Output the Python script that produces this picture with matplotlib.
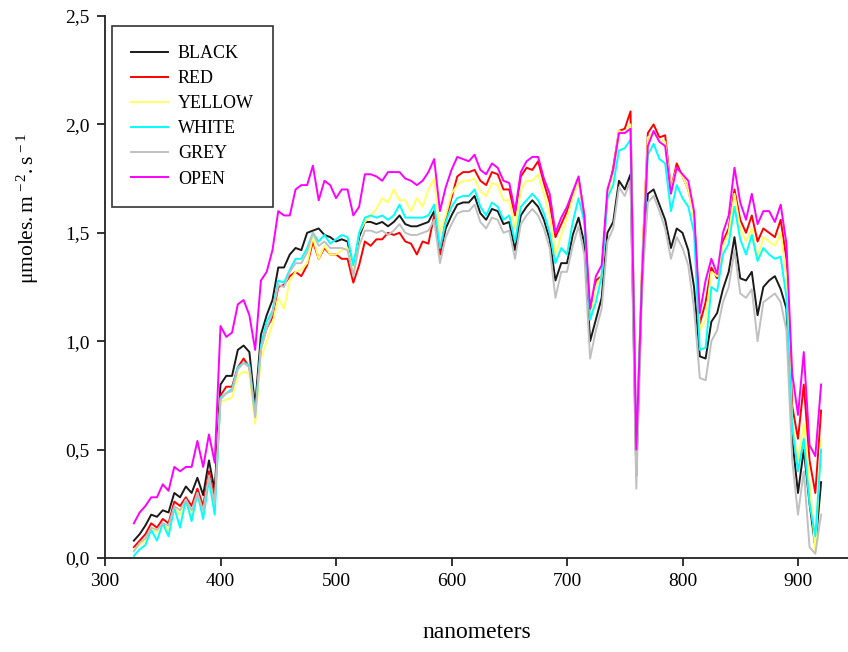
import numpy as np
import matplotlib
matplotlib.use("Agg")
import matplotlib.pyplot as plt
from matplotlib.ticker import FuncFormatter

plt.rcParams["font.family"] = ["Liberation Serif", "DejaVu Serif"]
plt.rcParams["mathtext.fontset"] = "custom"
plt.rcParams["mathtext.rm"] = "Liberation Serif"
plt.rcParams["mathtext.it"] = "Liberation Serif:italic"

# wavelength grid (nm)
wavelength = np.arange(325, 921, 5)

black = [0.08, 0.11, 0.15, 0.20, 0.19, 0.22, 0.21, 0.30, 0.28, 0.33, 0.30, 0.37, 0.29, 0.45, 0.31,
         0.80, 0.84, 0.84, 0.96, 0.98, 0.95, 0.70, 1.03, 1.12, 1.19, 1.34, 1.34, 1.40, 1.43, 1.42,
         1.50, 1.51, 1.52, 1.49, 1.48, 1.46, 1.47, 1.46, 1.33, 1.48, 1.55, 1.55, 1.54, 1.55, 1.53,
         1.55, 1.58, 1.54, 1.53, 1.53, 1.54, 1.55, 1.60, 1.40, 1.52, 1.58, 1.63, 1.64, 1.64, 1.67,
         1.59, 1.56, 1.61, 1.60, 1.54, 1.55, 1.42, 1.58, 1.62, 1.65, 1.62, 1.56, 1.47, 1.28, 1.36,
         1.36, 1.49, 1.57, 1.45, 1.00, 1.10, 1.20, 1.50, 1.55, 1.74, 1.70, 1.77, 0.38, 1.30, 1.68,
         1.70, 1.63, 1.56, 1.43, 1.52, 1.50, 1.42, 1.25, 0.93, 0.92, 1.09, 1.13, 1.24, 1.32, 1.48,
         1.29, 1.28, 1.32, 1.12, 1.25, 1.28, 1.30, 1.24, 1.15, 0.55, 0.30, 0.50, 0.25, 0.05, 0.35]

red = [0.05, 0.08, 0.11, 0.16, 0.14, 0.18, 0.16, 0.26, 0.24, 0.28, 0.24, 0.32, 0.24, 0.40, 0.27,
       0.75, 0.79, 0.79, 0.88, 0.92, 0.88, 0.65, 0.97, 1.06, 1.11, 1.25, 1.26, 1.30, 1.32, 1.30,
       1.35, 1.46, 1.38, 1.43, 1.40, 1.40, 1.38, 1.38, 1.27, 1.35, 1.46, 1.44, 1.47, 1.47, 1.50,
       1.49, 1.50, 1.46, 1.45, 1.40, 1.46, 1.45, 1.58, 1.40, 1.56, 1.66, 1.76, 1.78, 1.78, 1.79,
       1.74, 1.72, 1.78, 1.77, 1.70, 1.70, 1.58, 1.76, 1.80, 1.79, 1.83, 1.73, 1.64, 1.48, 1.54,
       1.60, 1.68, 1.75, 1.58, 1.10, 1.28, 1.30, 1.67, 1.80, 1.97, 1.98, 2.06, 0.47, 1.35, 1.96,
       2.00, 1.94, 1.95, 1.70, 1.82, 1.76, 1.70, 1.58, 1.08, 1.18, 1.34, 1.29, 1.46, 1.52, 1.70,
       1.56, 1.50, 1.58, 1.46, 1.52, 1.50, 1.48, 1.56, 1.38, 0.70, 0.55, 0.80, 0.45, 0.30, 0.68]

yellow = [0.04, 0.06, 0.08, 0.13, 0.12, 0.16, 0.13, 0.23, 0.20, 0.26, 0.20, 0.29, 0.20, 0.36, 0.24,
          0.72, 0.73, 0.74, 0.84, 0.86, 0.85, 0.62, 0.92, 1.00, 1.08, 1.20, 1.15, 1.28, 1.32, 1.33,
          1.36, 1.48, 1.38, 1.44, 1.40, 1.40, 1.42, 1.43, 1.33, 1.50, 1.55, 1.58, 1.61, 1.66, 1.64,
          1.70, 1.65, 1.65, 1.60, 1.66, 1.62, 1.70, 1.75, 1.50, 1.58, 1.68, 1.72, 1.74, 1.74, 1.75,
          1.69, 1.67, 1.73, 1.72, 1.65, 1.65, 1.52, 1.70, 1.74, 1.74, 1.77, 1.68, 1.58, 1.40, 1.49,
          1.57, 1.66, 1.74, 1.58, 1.10, 1.25, 1.30, 1.66, 1.78, 1.97, 1.96, 2.00, 0.47, 1.35, 1.94,
          1.96, 1.93, 1.92, 1.70, 1.80, 1.76, 1.70, 1.56, 1.05, 1.10, 1.32, 1.30, 1.44, 1.50, 1.68,
          1.52, 1.46, 1.52, 1.38, 1.48, 1.46, 1.44, 1.50, 1.30, 0.62, 0.45, 0.62, 0.35, 0.03, 0.55]

white = [0.01, 0.04, 0.06, 0.13, 0.08, 0.16, 0.10, 0.23, 0.14, 0.27, 0.17, 0.30, 0.18, 0.36, 0.20,
         0.74, 0.76, 0.78, 0.88, 0.90, 0.89, 0.66, 0.98, 1.09, 1.14, 1.28, 1.27, 1.33, 1.38, 1.38,
         1.43, 1.50, 1.46, 1.49, 1.45, 1.47, 1.49, 1.48, 1.35, 1.50, 1.57, 1.58, 1.57, 1.58, 1.56,
         1.58, 1.63, 1.57, 1.57, 1.57, 1.57, 1.58, 1.63, 1.43, 1.55, 1.62, 1.66, 1.67, 1.67, 1.70,
         1.62, 1.58, 1.64, 1.62, 1.56, 1.58, 1.46, 1.62, 1.65, 1.68, 1.65, 1.59, 1.50, 1.36, 1.43,
         1.40, 1.55, 1.66, 1.55, 1.10, 1.18, 1.30, 1.66, 1.72, 1.88, 1.89, 1.93, 0.50, 1.30, 1.86,
         1.91, 1.84, 1.82, 1.60, 1.72, 1.66, 1.62, 1.50, 0.96, 0.97, 1.25, 1.23, 1.40, 1.45, 1.62,
         1.47, 1.40, 1.49, 1.37, 1.43, 1.40, 1.38, 1.39, 1.20, 0.60, 0.40, 0.55, 0.25, 0.10, 0.50]

grey = [0.03, 0.07, 0.09, 0.14, 0.13, 0.16, 0.15, 0.24, 0.22, 0.27, 0.22, 0.30, 0.22, 0.38, 0.25,
        0.73, 0.76, 0.77, 0.87, 0.90, 0.88, 0.65, 0.96, 1.06, 1.13, 1.26, 1.25, 1.32, 1.36, 1.36,
        1.41, 1.50, 1.44, 1.46, 1.43, 1.43, 1.43, 1.42, 1.30, 1.44, 1.51, 1.51, 1.50, 1.51, 1.49,
        1.51, 1.54, 1.50, 1.49, 1.49, 1.50, 1.51, 1.56, 1.36, 1.48, 1.54, 1.59, 1.60, 1.60, 1.63,
        1.55, 1.52, 1.57, 1.56, 1.50, 1.51, 1.38, 1.54, 1.58, 1.61, 1.58, 1.52, 1.43, 1.20, 1.32,
        1.32, 1.44, 1.53, 1.40, 0.92, 1.05, 1.15, 1.46, 1.52, 1.71, 1.67, 1.74, 0.32, 1.25, 1.64,
        1.67, 1.60, 1.52, 1.38, 1.48, 1.43, 1.35, 1.15, 0.83, 0.82, 1.00, 1.05, 1.18, 1.25, 1.42,
        1.22, 1.20, 1.24, 1.00, 1.18, 1.20, 1.22, 1.18, 1.05, 0.45, 0.20, 0.40, 0.05, 0.02, 0.20]

open_sky = [0.16, 0.21, 0.24, 0.28, 0.28, 0.34, 0.31, 0.42, 0.40, 0.42, 0.42, 0.54, 0.42, 0.57, 0.44,
            1.07, 1.02, 1.04, 1.17, 1.19, 1.12, 0.96, 1.28, 1.32, 1.42, 1.60, 1.58, 1.58, 1.70, 1.72,
            1.72, 1.81, 1.65, 1.74, 1.72, 1.66, 1.70, 1.70, 1.58, 1.62, 1.77, 1.77, 1.76, 1.74, 1.78,
            1.78, 1.78, 1.75, 1.74, 1.72, 1.74, 1.78, 1.84, 1.60, 1.71, 1.79, 1.85, 1.84, 1.83, 1.86,
            1.79, 1.77, 1.82, 1.80, 1.74, 1.73, 1.60, 1.78, 1.83, 1.85, 1.85, 1.75, 1.68, 1.50, 1.57,
            1.62, 1.69, 1.76, 1.58, 1.15, 1.30, 1.35, 1.70, 1.79, 1.96, 1.96, 1.98, 0.50, 1.30, 1.90,
            1.97, 1.92, 1.90, 1.68, 1.80, 1.77, 1.74, 1.60, 1.13, 1.28, 1.38, 1.31, 1.50, 1.58, 1.80,
            1.64, 1.56, 1.68, 1.54, 1.60, 1.60, 1.55, 1.63, 1.45, 0.85, 0.66, 0.95, 0.52, 0.47, 0.80]

series = [
    ("BLACK", black, "#1a1a1a"),
    ("RED", red, "#ff0000"),
    ("YELLOW", yellow, "#ffff66"),
    ("WHITE", white, "#00ffff"),
    ("GREY", grey, "#c0c0c0"),
    ("OPEN", open_sky, "#ff00ff"),
]

x_ticks = [300, 400, 500, 600, 700, 800, 900]
y_ticks = [0.0, 0.5, 1.0, 1.5, 2.0, 2.5]

fig = plt.figure(figsize=(8.48, 6.52), dpi=100)
ax = fig.add_axes([105 / 848, 94 / 652, 743 / 848, 542 / 652])

for name, vals, col in series:
    ax.plot(wavelength, vals, color=col, lw=1.4, label=name)

ax.set_xlim(300, 300 + 743 / 1.155)
ax.set_ylim(0, 2.5)
ax.set_xticks(x_ticks)
ax.set_yticks(y_ticks)
ax.yaxis.set_major_formatter(FuncFormatter(lambda v, p: f"{v:.1f}".replace(".", ",")))

for s in ("top", "right"):
    ax.spines[s].set_visible(False)
for s in ("left", "bottom"):
    ax.spines[s].set_linewidth(1.3)
    ax.spines[s].set_color("#222222")
ax.tick_params(direction="out", length=6, width=1.3, labelsize=14, colors="#222222",
               labelcolor="black", pad=5)

ax.set_xlabel("nanometers", fontsize=17)
ax.xaxis.set_label_coords(0.5, -0.118)
ax.set_ylabel(r"$\mathregular{\mu moles.m^{\,-2}.s^{\,-1}}$", fontsize=15.5)
ax.yaxis.set_label_coords(-0.086, 0.645)

leg = ax.legend(loc="upper left", bbox_to_anchor=(7 / 743, 1 - 10 / 542), fontsize=13,
                frameon=True, fancybox=False, edgecolor="black", handlelength=2.05,
                handletextpad=0.55, labelspacing=0.45, borderpad=1.05, borderaxespad=0)
leg.get_frame().set_linewidth(1.2)

fig.savefig("out.png", dpi=100)
